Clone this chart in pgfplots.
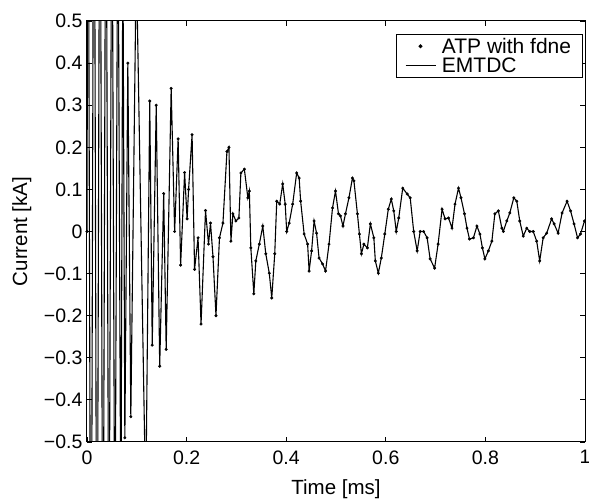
\documentclass[border=0pt]{standalone}
\usepackage{pgfplots}
\pgfplotsset{compat=1.18}
\usepackage{pgfplotstable}
\usepackage{fontspec}
\setmainfont{Liberation Sans}
\pgfplotstableread{
x y
0.000 0.00
0.002 1.20
0.008 -1.30
0.014 1.30
0.020 -1.20
0.026 1.20
0.032 -1.10
0.038 1.10
0.044 -1.00
0.050 1.00
0.056 -0.90
0.062 0.90
0.068 -0.75
0.072 0.70
0.076 -0.49
0.082 0.40
0.088 -0.44
0.099 0.65
0.118 -0.65
0.126 0.31
0.131 -0.27
0.139 0.30
0.146 -0.32
0.154 0.09
0.159 -0.28
0.169 0.34
0.176 0.00
0.183 0.22
0.188 -0.08
0.196 0.14
0.201 0.03
0.204 0.10
0.211 0.23
0.216 -0.09
0.223 -0.015
0.229 -0.22
0.238 0.05
0.244 -0.03
0.248 0.02
0.253 -0.06
0.259 -0.20
0.266 -0.015
0.273 0.02
0.281 0.19
0.285 0.20
0.289 -0.023
0.293 0.042
0.299 0.025
0.305 0.032
0.309 0.139
0.316 0.148
0.323 0.08
0.326 0.096
0.329 -0.039
0.335 -0.148
0.339 -0.07
0.346 -0.03
0.353 0.013
0.359 -0.053
0.366 -0.099
0.371 -0.158
0.377 -0.053
0.381 0.072
0.387 0.065
0.393 0.113
0.398 0.065
0.401 0.000
0.406 0.020
0.413 0.065
0.421 0.139
0.426 0.127
0.429 0.072
0.436 -0.006
0.443 -0.030
0.446 -0.094
0.451 -0.046
0.456 0.025
0.461 -0.004
0.466 -0.063
0.473 -0.077
0.479 -0.094
0.486 -0.030
0.493 0.056
0.499 0.096
0.505 0.042
0.509 0.037
0.514 0.013
0.519 0.042
0.526 0.080
0.533 0.127
0.536 0.120
0.543 0.042
0.547 -0.006
0.551 -0.053
0.556 -0.030
0.563 -0.039
0.569 0.018
0.576 -0.015
0.579 -0.070
0.585 -0.099
0.591 -0.063
0.598 -0.006
0.605 0.053
0.611 0.077
0.616 0.049
0.621 0.000
0.626 0.032
0.634 0.103
0.643 0.089
0.649 0.080
0.656 0.000
0.663 -0.046
0.669 0.000
0.676 0.000
0.683 -0.015
0.689 -0.065
0.698 -0.087
0.705 -0.030
0.713 0.053
0.719 0.030
0.726 0.032
0.733 0.008
0.739 0.065
0.746 0.103
0.751 0.080
0.758 0.042
0.763 0.008
0.768 -0.018
0.776 -0.015
0.783 0.013
0.789 -0.006
0.794 -0.039
0.799 -0.065
0.806 -0.046
0.813 -0.023
0.819 0.042
0.826 0.049
0.833 0.008
0.836 0.000
0.843 0.025
0.849 0.044
0.857 0.080
0.863 0.072
0.869 0.025
0.876 -0.011
0.883 0.008
0.889 0.000
0.896 0.000
0.903 -0.023
0.909 -0.070
0.916 -0.015
0.923 -0.004
0.933 0.030
0.938 0.018
0.946 -0.004
0.954 0.044
0.964 0.072
0.971 0.049
0.978 0.018
0.985 -0.015
0.991 -0.006
0.999 0.025
}\data
\begin{document}
\begin{tikzpicture}
\path[use as bounding box] (-87bp,-58bp) rectangle (502bp,442bp);
\begin{axis}[
  at={(0,0)}, anchor=south west,
  scale only axis, width=498bp, height=421bp,
  xmin=0, xmax=1, ymin=-0.5, ymax=0.5,
  xtick={0,0.2,0.4,0.6,0.8,1},
  xticklabels={0,0.2,0.4,0.6,0.8,1},
  ytick={-0.5,-0.4,-0.3,-0.2,-0.1,0,0.1,0.2,0.3,0.4,0.5},
  yticklabels={−0.5,−0.4,−0.3,−0.2,−0.1,0,0.1,0.2,0.3,0.4,0.5},
  tick align=inside, major tick length=5bp,
  axis line style={line width=1bp},
  tick style={line width=0.8bp, black},
  tick label style={font=\fontsize{19.5bp}{22bp}\selectfont},
  xticklabel style={yshift=-5bp},
  yticklabel style={xshift=-1bp},
  label style={font=\fontsize{20.5bp}{23bp}\selectfont},
  xlabel={Time [ms]},
  ylabel={Current [kA]},
  xlabel style={at={(axis description cs:0.5,-0.112)}, anchor=center},
  ylabel style={at={(axis description cs:-0.131,0.5)}, anchor=center},
  legend style={at={(axis description cs:0.995,0.969)}, anchor=north east,
    draw=black, line width=0.8bp, font=\fontsize{21bp}{24bp}\selectfont,
    inner xsep=9bp, inner ysep=1.5bp, row sep=-1bp, cells={anchor=west},
    /tikz/every odd column/.append style={column sep=4bp}},
]
\addplot[only marks, mark=*, mark size=1.3bp, black,
  legend image code/.code={\fill[black] (15bp,0bp) circle (1.5bp);\path[draw=none,fill=none] (0bp,0bp) (30bp,0bp);}]
  table[x=x,y=y] {\data};
\addlegendentry{ATP with fdne}
\addplot[black, line width=1.1bp, mark=none,
  legend image code/.code={\draw[black, line width=0.9bp] (0bp,0bp) -- (30bp,0bp);}]
  table[x=x,y=y] {\data};
\addlegendentry{EMTDC}
\end{axis}
\end{tikzpicture}
\end{document}
